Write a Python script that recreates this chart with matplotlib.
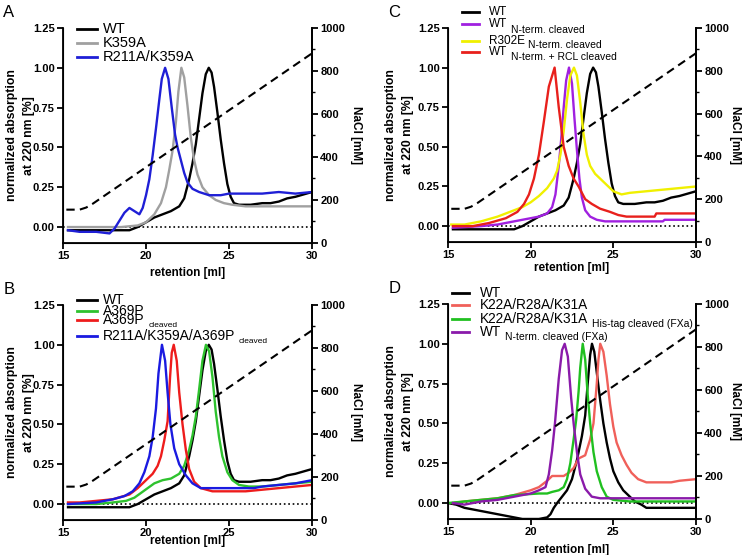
import numpy as np
import matplotlib.pyplot as plt
from matplotlib.ticker import MultipleLocator

plt.rcParams['font.family'] = ['Liberation Sans', 'DejaVu Sans']

# NaCl gradient (right axis, mM)
nacl_x = [15.2, 16.0, 16.4, 16.8, 30.0]
nacl_y = [155, 155, 165, 183, 882]

# WT run used in A, B and C
wt_x = [15.3, 17.5, 19.0, 19.5, 20.0, 20.5, 21.0, 21.5, 22.0, 22.3, 22.6, 22.8, 23.0, 23.2, 23.4, 23.6,
        23.78, 23.95, 24.1, 24.3, 24.5, 24.7, 24.9, 25.1, 25.3, 25.6, 26.3, 27.0, 27.5, 28.0, 28.5, 29.0, 30.0]
wt_y = [-0.02, -0.02, -0.02, 0.0, 0.03, 0.06, 0.08, 0.10, 0.13, 0.18, 0.30, 0.40, 0.52, 0.68, 0.84, 0.96,
        1.0, 0.97, 0.88, 0.72, 0.55, 0.40, 0.27, 0.19, 0.15, 0.14, 0.14, 0.15, 0.15, 0.16, 0.18, 0.19, 0.22]

# panel A
k359a_x = [15.3, 18.5, 19.5, 20.0, 20.5, 20.9, 21.2, 21.4, 21.6, 21.8, 21.95, 22.13, 22.3, 22.5, 22.7,
           22.9, 23.1, 23.4, 23.8, 24.2, 24.7, 25.2, 26.0, 27.0, 28.0, 30.0]
k359a_y = [0.0, 0.0, 0.01, 0.03, 0.08, 0.15, 0.25, 0.36, 0.48, 0.66, 0.85, 1.0, 0.94, 0.76, 0.56,
           0.42, 0.33, 0.25, 0.20, 0.17, 0.15, 0.14, 0.13, 0.13, 0.13, 0.13]
r211a_x = [15.3, 16.0, 17.0, 17.8, 18.1, 18.4, 18.7, 19.0, 19.3, 19.6, 19.8, 20.0, 20.2, 20.4, 20.6,
           20.8, 20.95, 21.15, 21.35, 21.55, 21.75, 21.9, 22.1, 22.3, 22.5, 22.8, 23.2, 23.8, 24.5,
           25.0, 26.0, 27.0, 28.0, 29.0, 30.0]
r211a_y = [-0.02, -0.03, -0.03, -0.04, -0.01, 0.04, 0.09, 0.12, 0.10, 0.08, 0.12, 0.20, 0.30, 0.45, 0.62,
           0.80, 0.93, 1.0, 0.93, 0.75, 0.58, 0.50, 0.42, 0.34, 0.28, 0.24, 0.22, 0.20, 0.20,
           0.21, 0.21, 0.21, 0.22, 0.21, 0.22]

# panel B
a369p_x = [15.3, 17.0, 18.0, 18.8, 19.3, 19.7, 20.1, 20.5, 21.0, 21.5, 22.0, 22.3, 22.6, 22.8, 23.0,
           23.2, 23.4, 23.61, 23.8, 24.0, 24.2, 24.4, 24.6, 24.9, 25.2, 25.6, 26.2, 27.0, 28.0, 29.0, 30.0]
a369p_y = [0.0, 0.0, 0.01, 0.02, 0.04, 0.07, 0.10, 0.13, 0.15, 0.16, 0.19, 0.24, 0.34, 0.43, 0.55,
           0.72, 0.90, 1.0, 0.96, 0.80, 0.58, 0.42, 0.30, 0.20, 0.15, 0.12, 0.11, 0.11, 0.12, 0.13, 0.14]
a369pc_x = [15.3, 16.0, 17.0, 18.0, 19.0, 19.5, 20.0, 20.4, 20.7, 20.9, 21.1, 21.3, 21.45, 21.55,
            21.67, 21.85, 22.0, 22.2, 22.4, 22.6, 22.9, 23.3, 24.0, 25.0, 26.0, 27.0, 28.0, 29.0, 30.0]
a369pc_y = [0.01, 0.01, 0.02, 0.03, 0.06, 0.10, 0.15, 0.19, 0.24, 0.30, 0.40, 0.52, 0.80, 0.95,
            1.0, 0.90, 0.70, 0.50, 0.34, 0.22, 0.14, 0.10, 0.08, 0.08, 0.08, 0.09, 0.10, 0.11, 0.12]
triple_x = [15.3, 17.0, 18.0, 18.7, 19.2, 19.6, 19.9, 20.2, 20.4, 20.6, 20.75, 20.96, 21.15, 21.3,
            21.47, 21.7, 22.0, 22.4, 22.8, 23.3, 24.0, 25.5, 26.5, 27.0, 28.0, 29.0, 30.0]
triple_y = [0.0, 0.01, 0.03, 0.05, 0.08, 0.13, 0.20, 0.30, 0.42, 0.60, 0.82, 1.0, 0.90, 0.70,
            0.50, 0.35, 0.25, 0.18, 0.13, 0.10, 0.10, 0.10, 0.10, 0.11, 0.12, 0.13, 0.15]

# panel C
wtn_x = [15.3, 17.0, 18.0, 19.0, 20.0, 20.5, 21.0, 21.3, 21.5, 21.7, 21.85, 22.0, 22.15, 22.32, 22.5,
         22.65, 22.8, 22.95, 23.1, 23.3, 23.6, 24.0, 24.5, 28.0, 28.1, 30.0]
wtn_y = [-0.01, 0.0, 0.01, 0.03, 0.05, 0.06, 0.08, 0.12, 0.20, 0.38, 0.55, 0.75, 0.92, 1.0, 0.90,
         0.68, 0.48, 0.30, 0.18, 0.10, 0.06, 0.04, 0.03, 0.03, 0.04, 0.04]
r302e_x = [15.2, 16.0, 17.0, 18.0, 19.0, 19.5, 20.0, 20.5, 21.0, 21.4, 21.6, 21.8, 22.0, 22.2, 22.4,
           22.62, 22.8, 23.0, 23.2, 23.4, 23.6, 23.9, 24.3, 24.7, 25.0, 25.5, 26.0, 27.0, 28.0, 29.0, 30.0]
r302e_y = [0.01, 0.01, 0.03, 0.06, 0.10, 0.12, 0.15, 0.19, 0.24, 0.30, 0.35, 0.45, 0.60, 0.80, 0.95,
           1.0, 0.95, 0.78, 0.58, 0.45, 0.38, 0.33, 0.29, 0.25, 0.22, 0.20, 0.21, 0.22, 0.23, 0.24, 0.25]
rcl_x = [15.3, 16.5, 17.5, 18.5, 19.2, 19.6, 19.9, 20.2, 20.5, 20.8, 21.1, 21.45, 21.7, 22.0, 22.3,
         22.6, 22.9, 23.3, 23.7, 24.2, 24.8, 25.3, 25.8, 27.5, 27.6, 30.0]
rcl_y = [0.0, 0.0, 0.02, 0.05, 0.09, 0.14, 0.20, 0.30, 0.45, 0.66, 0.88, 1.0, 0.75, 0.50, 0.38,
         0.30, 0.25, 0.17, 0.14, 0.11, 0.09, 0.07, 0.06, 0.06, 0.08, 0.08]

# panel D
wtd_x = [15.0, 15.5, 16.0, 16.5, 17.0, 17.5, 18.0, 18.5, 19.0, 19.5, 20.0, 20.5, 21.0, 21.2, 21.4, 21.6,
         21.9, 22.2, 22.5, 22.8, 23.1, 23.3, 23.45, 23.6, 23.71, 23.85, 24.0, 24.2, 24.4, 24.6, 24.8,
         25.0, 25.3, 25.6, 26.0, 26.3, 26.7, 27.0, 28.0, 30.0]
wtd_y = [0.0, -0.01, -0.03, -0.04, -0.05, -0.06, -0.07, -0.08, -0.09, -0.10, -0.10, -0.10, -0.09, -0.07,
         -0.03, 0.0, 0.04, 0.08, 0.15, 0.27, 0.42, 0.55, 0.75, 0.93, 1.0, 0.95, 0.82, 0.65, 0.50, 0.38,
         0.28, 0.20, 0.13, 0.08, 0.04, 0.01, -0.01, -0.03, -0.03, -0.03]
k22a_x = [15.3, 16.0, 17.0, 18.0, 19.0, 20.0, 20.5, 21.0, 21.3, 22.0, 22.3, 22.6, 22.9, 23.3, 23.6,
          23.8, 24.0, 24.1, 24.21, 24.4, 24.6, 24.8, 25.0, 25.2, 25.5, 25.8, 26.1, 26.5, 27.0, 28.5,
          29.0, 30.0]
k22a_y = [0.0, 0.01, 0.02, 0.03, 0.05, 0.08, 0.10, 0.14, 0.17, 0.17, 0.19, 0.22, 0.28, 0.30, 0.40,
          0.50, 0.75, 0.90, 1.0, 0.95, 0.80, 0.62, 0.48, 0.38, 0.30, 0.24, 0.19, 0.15, 0.13, 0.13,
          0.14, 0.15]
k22ah_x = [15.0, 16.0, 17.0, 18.0, 19.0, 20.5, 21.0, 21.3, 21.7, 22.0, 22.2, 22.4, 22.6, 22.75, 22.9,
           23.0, 23.15, 23.3, 23.45, 23.6, 23.8, 24.0, 24.3, 24.6, 25.0, 26.0, 30.0]
k22ah_y = [0.0, 0.01, 0.02, 0.03, 0.05, 0.06, 0.06, 0.07, 0.08, 0.10, 0.15, 0.25, 0.40, 0.52, 0.70,
           0.85, 1.0, 0.90, 0.68, 0.50, 0.32, 0.20, 0.10, 0.04, 0.02, 0.01, 0.01]
wtnf_x = [15.3, 16.0, 17.0, 18.0, 19.0, 20.0, 20.5, 20.9, 21.1, 21.3, 21.47, 21.7, 21.9, 22.06, 22.25,
          22.45, 22.6, 22.8, 23.0, 23.3, 23.7, 24.2, 30.0]
wtnf_y = [0.0, -0.01, 0.01, 0.02, 0.04, 0.06, 0.08, 0.10, 0.18, 0.33, 0.50, 0.78, 0.96, 1.0, 0.92,
          0.66, 0.50, 0.32, 0.18, 0.09, 0.04, 0.03, 0.03]

fig = plt.figure(figsize=(7.45, 5.55), dpi=100)


def panel(rect, letter, series, leg, xlab_y, ylab_x, rlab_x):
    # leg: handle x0, x1, text x, row y list, main size, sub size, sub drops (pt)
    hx0, hx1, tx, rows, fs, sfs, drops = leg
    ax = fig.add_axes(rect)
    ax.plot([15, 30], [0, 0], ':', color='black', lw=1.2)
    for (x, y, c, lab, sub), ry, dr in zip(series, rows, drops):
        ax.plot(x, y, color=c, lw=1.7)
        ax.plot([hx0, hx1], [ry, ry], color=c, lw=2, transform=ax.transAxes, clip_on=False)
        t = ax.text(tx, ry, lab, fontsize=fs, va='center', ha='left', transform=ax.transAxes)
        if sub:
            ax.annotate(sub, xy=(1, 0), xycoords=t, xytext=(2.5, -dr), textcoords='offset points',
                        fontsize=sfs, va='bottom', ha='left', annotation_clip=False)
    ax.set_xlim(15, 30)
    ax.set_ylim(-0.1, 1.25)
    ax.set_xticks([15, 20, 25, 30])
    ax.set_yticks([0, 0.25, 0.5, 0.75, 1.0, 1.25])
    ax.set_yticklabels(['0.00', '0.25', '0.50', '0.75', '1.00', '1.25'])
    ax.spines['top'].set_visible(False)
    for s in ['left', 'bottom', 'right']:
        ax.spines[s].set_linewidth(1.3)
    ax.tick_params(direction='out', length=4, width=1.3, pad=2, labelsize=8)
    for t in ax.get_xticklabels() + ax.get_yticklabels():
        t.set_fontweight('bold')
    ax.set_xlabel('retention [ml]', fontsize=8.5, fontweight='bold')
    ax.xaxis.set_label_coords(0.5, xlab_y)
    ax.set_ylabel('normalized absorption\nat 220 nm [%]', fontsize=8.8, fontweight='bold',
                  linespacing=1.55)
    ax.yaxis.set_label_coords(ylab_x, 0.5)

    ax2 = ax.twinx()
    ax2.plot(nacl_x, nacl_y, '--', color='black', lw=1.5, dashes=(4, 2.5))
    ax2.set_ylim(0, 1000)
    ax2.set_yticks(range(0, 1001, 200))
    ax2.yaxis.set_minor_locator(MultipleLocator(100))
    ax2.spines['top'].set_visible(False)
    ax2.spines['right'].set_linewidth(1.3)
    ax2.tick_params(which='major', direction='out', length=4, width=1.3, pad=2, labelsize=8)
    ax2.tick_params(which='minor', direction='out', length=2.5, width=1.0)
    for t in ax2.get_yticklabels():
        t.set_fontweight('bold')
    ax2.set_ylabel('NaCl [mM]', fontsize=8.5, fontweight='bold', rotation=270)
    ax2.yaxis.set_label_coords(rlab_x, 0.5)
    fig.text(rect[0] - 0.08, rect[1] + rect[3] + 0.02, letter, fontsize=12)
    return ax


panel([0.0846, 0.5622, 0.3342, 0.3874], 'A',
      [(wt_x, wt_y, 'black', 'WT', ''),
       (k359a_x, k359a_y, '#a0a0a0', 'K359A', ''),
       (r211a_x, r211a_y, '#1f1fd6', 'R211A/K359A', '')],
      (0.056, 0.137, 0.161, [0.995, 0.930, 0.865], 10.5, 6, [0, 0, 0]),
      -0.112, -0.113, 1.20)

panel([0.0846, 0.0631, 0.3342, 0.3874], 'B',
      [(wt_x, wt_y, 'black', 'WT', ''),
       (a369p_x, a369p_y, '#2ec22e', 'A369P', ''),
       (a369pc_x, a369pc_y, '#ee1c1c', 'A369P', 'cleaved'),
       (triple_x, triple_y, '#1a1ae0', 'R211A/K359A/A369P', 'cleaved')],
      (0.056, 0.137, 0.161, [1.022, 0.974, 0.928, 0.856], 10.0, 6, [0, 0, 0.8, 1.2]),
      -0.07, -0.113, 1.20)

panel([0.6013, 0.5640, 0.3329, 0.3856], 'C',
      [(wt_x, wt_y, 'black', 'WT', ''),
       (wtn_x, wtn_y, '#a020e0', 'WT', 'N-term. cleaved'),
       (r302e_x, r302e_y, '#f0f000', 'R302E', 'N-term. cleaved'),
       (rcl_x, rcl_y, '#e8201c', 'WT', 'N-term. + RCL cleaved')],
      (0.056, 0.125, 0.165, [1.075, 1.019, 0.939, 0.888], 8.5, 7.5, [0, 3.5, 2, 3]),
      -0.093, -0.138, 1.183)

panel([0.6013, 0.0649, 0.3329, 0.3874], 'D',
      [(wtd_x, wtd_y, 'black', 'WT', ''),
       (k22a_x, k22a_y, '#f0605a', 'K22A/R28A/K31A', ''),
       (k22ah_x, k22ah_y, '#20c020', 'K22A/R28A/K31A', 'His-tag cleaved (FXa)'),
       (wtnf_x, wtnf_y, '#8a1aaa', 'WT', 'N-term. cleaved (FXa)')],
      (0.016, 0.085, 0.129, [1.051, 0.995, 0.930, 0.870], 9.8, 7.5, [0, 0, 2, 2]),
      -0.116, -0.138, 1.183)

plt.savefig('out.png', dpi=100)
